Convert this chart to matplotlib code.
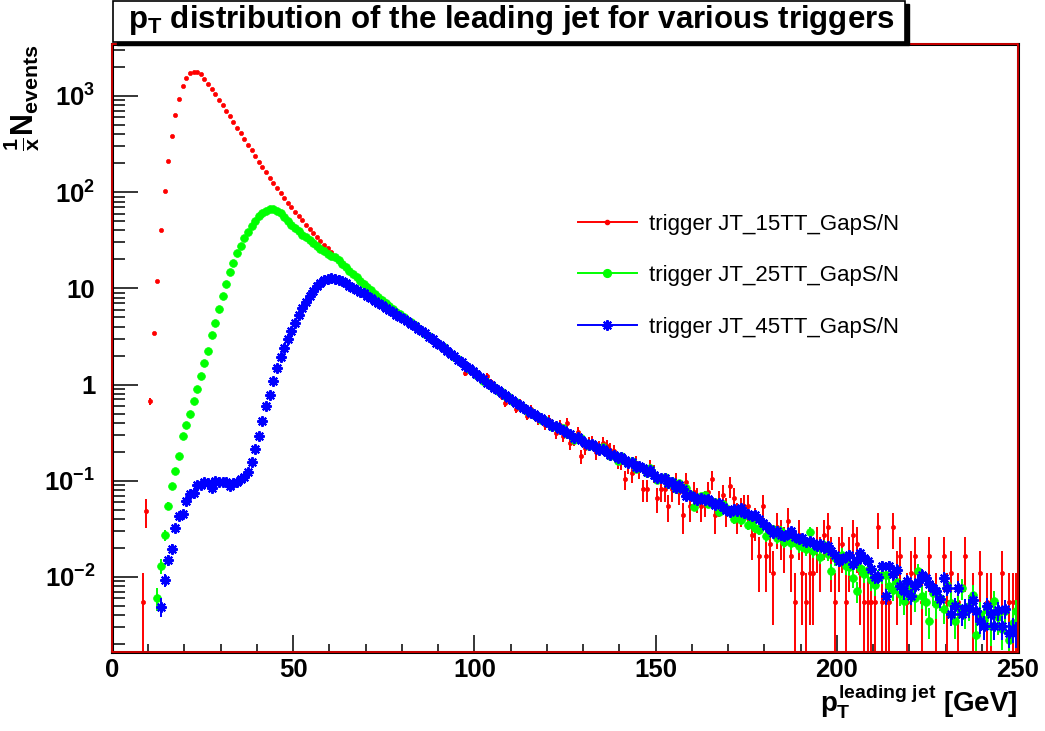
import numpy as np
import matplotlib
matplotlib.use("Agg")
import matplotlib.pyplot as plt
from matplotlib.lines import Line2D
from matplotlib.patches import Rectangle
from matplotlib.ticker import FixedLocator, FixedFormatter, MultipleLocator, NullFormatter

plt.rcParams['font.family'] = 'Liberation Sans'
plt.rcParams['mathtext.fontset'] = 'custom'
plt.rcParams['mathtext.rm'] = 'Liberation Sans:bold'
plt.rcParams['mathtext.it'] = 'Liberation Sans:bold'
plt.rcParams['mathtext.bf'] = 'Liberation Sans:bold'

# 1 GeV bins, first filled bin of each trigger
red_start = 8
red_values = [
    0.0055, 0.049,
    0.67, 3.4, 11.9, 40.6, 102, 213, 385, 630, 930, 1270,
    1550, 1720, 1795, 1780, 1683, 1492, 1336, 1195, 1052, 918,
    808, 705, 615, 542, 469, 410, 358, 312, 273, 238,
    208, 181, 163, 142, 125, 110, 98.4, 87.9, 78.0, 69.7,
    62.8, 56.2, 51.0, 46.0, 41.9, 37.8, 34.3, 31.3, 28.5, 26.0,
    23.7, 21.5, 19.8, 18.1, 16.8, 15.4, 14.3, 12.9, 12.1, 11.1,
    10.5, 9.5, 8.8, 8.05, 7.6, 6.95, 6.6, 6.0, 5.75, 5.3,
    5.1, 4.65, 4.5, 4.05, 3.9, 3.58, 3.42, 3.12, 2.99, 2.70,
    2.62, 2.36, 2.28, 2.05, 1.99, 1.78, 1.74, 1.32, 1.51, 1.35,
    1.32, 1.13, 1.16, 1.24, 1.06, 0.893, 0.883, 0.75, 0.645, 0.768,
    0.667, 0.56, 0.641, 0.585, 0.476, 0.564, 0.483, 0.433, 0.454, 0.384,
    0.433, 0.380, 0.315, 0.382, 0.293, 0.40, 0.248, 0.268, 0.321, 0.18,
    0.218, 0.247, 0.253, 0.199, 0.227, 0.248, 0.228, 0.211, 0.202, 0.164,
]
# bins 140..249 of the red trigger, in entries
red_tail_counts = [
    29, 19, 27, 22, 28, 24, 15, 15, 25, 22,
    12, 15, 15, 10, 15, 18, 14, 8, 18, 10,
    14, 12, 10, 11, 14, 19, 8, 11, 13, 9,
    16, 12, 8, 9, 10, 10, 5, 7, 3, 10,
    3, 4, 2, 6, 5, 4, 7, 3, 1, 5,
    2, 1, 2, 2, 4, 3, 5, 6, 3, 1,
    3, 4, 1, 3, 5, 4, 2, 1, 1, 1,
    1, 6, 1, 1, 1, 6, 2, 3, 0, 1,
    2, 3, 0, 1, 0, 3, 0, 1, 0, 3,
    1, 2, 0, 1, 0, 3, 0, 1, 0, 2,
    0, 1, 1, 0, 0, 2, 0, 1, 1, 1,
]
red_weight = 0.00546

green_start = 12
green_values = [
    0.00607, 0.0131, 0.0271, 0.0552, 0.089, 0.1256, 0.183, 0.295,
    0.378, 0.491, 0.682, 0.908, 1.24, 1.66, 2.22, 3.31, 4.34, 6.13,
    8.28, 11.1, 14.7, 18.5, 23.2, 27.4, 33.2, 38.7, 44.6, 50.7,
    56.2, 61.0, 64.4, 66.4, 66.4, 63.9, 60.3, 55.7, 50.7, 46.0,
    42.7, 39.4, 36.3, 33.9, 31.6, 29.5, 27.5, 25.7, 24.3, 22.9,
    21.9, 21.1, 19.5, 17.9, 16.5, 15.2, 14.1, 13.0, 12.0, 11.2,
    10.35, 9.55, 8.71, 8.13, 7.50, 7.0, 6.53, 6.10, 5.69, 5.37,
    5.01, 4.73, 4.42, 4.12, 3.85, 3.63, 3.36, 3.18, 2.92, 2.78,
    2.55, 2.43, 2.21, 2.10, 1.93, 1.84, 1.69, 1.60, 1.46, 1.39,
    1.27, 1.21, 1.10, 1.07, 0.975, 0.945, 0.862, 0.83, 0.765, 0.74,
    0.676, 0.652, 0.598, 0.582, 0.535, 0.521, 0.48, 0.468, 0.432, 0.425,
    0.402, 0.364, 0.374, 0.342, 0.350, 0.305, 0.303, 0.268, 0.284, 0.277,
    0.249, 0.231, 0.243, 0.226, 0.209, 0.222, 0.199, 0.183, 0.187, 0.162,
    0.180, 0.162, 0.152, 0.161, 0.133, 0.140, 0.137, 0.121, 0.135, 0.114,
    0.101, 0.108, 0.110, 0.0918, 0.0987, 0.082, 0.0953, 0.0815, 0.085, 0.0721,
    0.053, 0.0619, 0.0691, 0.0716, 0.0574, 0.058, 0.0605, 0.0475, 0.0571, 0.0523,
    0.047, 0.040, 0.0455, 0.0389, 0.0427, 0.0345, 0.0385, 0.0322, 0.031, 0.0356,
    0.0268, 0.0291, 0.0312, 0.0254, 0.030, 0.0232, 0.0248, 0.0224, 0.0236, 0.021,
    0.0215, 0.0196, 0.0295, 0.0187, 0.0203, 0.0162, 0.0214, 0.0175, 0.0115, 0.0158,
    0.0152, 0.0171, 0.0129, 0.0127, 0.0098, 0.0071, 0.0125, 0.0108, 0.0119, 0.0092,
    0.0083, 0.0097, 0.0106, 0.0106, 0.0081, 0.0074, 0.0088, 0.0067, 0.0056, 0.0078,
    0.0069, 0.0060, 0.0115, 0.0064, 0.0055, 0.0035, 0.0068, 0.0052, 0.0061, 0.0047,
    0.0083, 0.0054, 0.0035, 0.0049, 0.0076, 0.0043, 0.0050, 0.0065, 0.0025, 0.0041,
    0.0036, 0.0045, 0.0031, 0.0056, 0.0038, 0.0029, 0.0044, 0.0022, 0.0033, 0.0044,
]
green_weight = 0.00045

blue_start = 13
blue_values = [
    0.0049, 0.0093, 0.0149, 0.0196, 0.0324, 0.0428, 0.0453,
    0.0622, 0.0736, 0.074, 0.0906, 0.0899, 0.0966, 0.0957, 0.0844, 0.1005, 0.097,
    0.0966, 0.0966, 0.0885, 0.0957, 0.097, 0.1047, 0.1106, 0.1247, 0.1556, 0.216,
    0.293, 0.422, 0.595, 0.787, 1.08, 1.47, 1.93, 2.41, 2.99, 3.64,
    4.38, 5.25, 6.21, 7.29, 8.28, 9.42, 10.5, 11.4, 12.1, 12.6,
    12.7, 12.6, 12.3, 11.9, 11.3, 10.6, 10.1, 9.66, 9.23, 8.91,
    8.41, 7.94, 7.41, 7.08, 6.68, 6.31, 5.96, 5.62, 5.31, 5.07,
    4.79, 4.57, 4.30, 4.03, 3.78, 3.59, 3.41, 3.14, 2.97, 2.73,
    2.59, 2.38, 2.26, 2.08, 1.96, 1.80, 1.72, 1.575, 1.49, 1.37,
    1.30, 1.19, 1.13, 1.05, 0.995, 0.925, 0.885, 0.818, 0.782, 0.722,
    0.69, 0.64, 0.616, 0.57, 0.549, 0.507, 0.494, 0.457, 0.446, 0.414,
    0.402, 0.373, 0.369, 0.343, 0.339, 0.311, 0.305, 0.281, 0.282, 0.268,
    0.249, 0.238, 0.239, 0.226, 0.211, 0.213, 0.198, 0.185, 0.187, 0.171,
    0.176, 0.163, 0.153, 0.156, 0.139, 0.141, 0.135, 0.123, 0.129, 0.115,
    0.107, 0.108, 0.108, 0.0945, 0.0972, 0.0835, 0.0905, 0.0818, 0.069, 0.0705,
    0.0672, 0.0638, 0.0655, 0.0626, 0.0641, 0.0598, 0.0567, 0.0585, 0.0532, 0.050,
    0.0478, 0.0512, 0.049, 0.052, 0.0468, 0.0452, 0.0431, 0.0445, 0.0396, 0.0362,
    0.0343, 0.0318, 0.0287, 0.0302, 0.0275, 0.0266, 0.0281, 0.030, 0.0262, 0.0248,
    0.0254, 0.0231, 0.0238, 0.0226, 0.0212, 0.0221, 0.0198, 0.0209, 0.0186, 0.0168,
    0.0146, 0.0154, 0.0162, 0.0171, 0.0135, 0.0149, 0.0178, 0.0156, 0.0146, 0.0121,
    0.0100, 0.0100, 0.0129, 0.0063, 0.0129, 0.0108, 0.0119, 0.0080, 0.0071, 0.0090,
    0.0063, 0.0080, 0.0088, 0.0106, 0.0098, 0.0085, 0.0077, 0.0071, 0.0059, 0.0098,
    0.0077, 0.0041, 0.0050, 0.0077, 0.0041, 0.0048, 0.0048, 0.0058, 0.0044, 0.0035,
    0.0031, 0.0050, 0.0041, 0.0031, 0.0045, 0.0031, 0.0047, 0.0026, 0.0029, 0.0026,
]
blue_weight = 0.00024

labels = ["trigger JT_15TT_GapS/N", "trigger JT_25TT_GapS/N", "trigger JT_45TT_GapS/N"]
y_ticks = [1e-2, 1e-1, 1, 10, 1e2, 1e3]
y_ticklabels = [r"$10^{-2}$", r"$10^{-1}$", "1", "10", r"$10^{2}$", r"$10^{3}$"]


def draw(ax, start, values, weight, color, marker, ms, mew):
    v = np.asarray(values, dtype=float)
    x = start + np.arange(len(v)) + 0.5
    err = np.sqrt(v * weight)
    lo = np.minimum(err, v * 0.9999)
    v = np.where(v > 0, v, np.nan)
    ax.errorbar(x, v, yerr=[lo, err], fmt='none', ecolor=color, elinewidth=1.4, capsize=0)
    ax.plot(x, v, linestyle='none', marker=marker, color=color, mfc=color, mec=color,
            ms=ms, mew=mew)


fig = plt.figure(figsize=(10.45, 7.31), dpi=100)
ax = fig.add_axes([112 / 1045, 1 - 652 / 731, 906 / 1045, 608 / 731])
ax.set_yscale('log')

red_all = list(red_values) + [c * red_weight for c in red_tail_counts]
draw(ax, red_start, red_all, red_weight, (1, 0, 0), 'o', 3.0, 0.5)
draw(ax, green_start, green_values, green_weight, (0, 1, 0), 'o', 5.6, 0.5)
draw(ax, blue_start, blue_values, blue_weight, (0, 0, 1), (8, 2, 0), 7.5, 1.5)

ax.set_xlim(0, 250)
ax.set_ylim(1.661e-3, 3470)

ax.xaxis.set_major_locator(MultipleLocator(50))
ax.xaxis.set_minor_locator(MultipleLocator(10))
ax.yaxis.set_major_locator(FixedLocator(y_ticks))
ax.yaxis.set_major_formatter(FixedFormatter(y_ticklabels))
ax.yaxis.set_minor_formatter(NullFormatter())
ax.tick_params(which='both', direction='in', top=False, right=False, width=1.1,
               labelsize=18.5)
ax.tick_params(axis='x', which='major', length=12, pad=4)
ax.tick_params(axis='x', which='minor', length=6)
ax.tick_params(axis='y', which='major', length=19, pad=12)
ax.tick_params(axis='y', which='minor', length=9.5)
for lab in ax.get_xticklabels() + ax.get_yticklabels():
    lab.set_fontweight('bold')

for s in ax.spines.values():
    s.set_linewidth(2.2)
    s.set_color('black')
ax.add_patch(Rectangle((0, 0), 1, 1, transform=ax.transAxes, fill=False,
                       edgecolor='red', lw=1.1, zorder=5, clip_on=False))

ax.set_xlabel(r"$p_{T}^{leading\ jet}$ [GeV]", loc='right', fontsize=20,
              fontweight='bold', labelpad=0)
ax.set_ylabel(r"$\frac{1}{x}N_{events}$", loc='top', fontsize=22, labelpad=2)

handles = [
    Line2D([], [], color=(1, 0, 0), marker='o', ms=3.0, lw=1.4),
    Line2D([], [], color=(0, 1, 0), marker='o', ms=5.6, lw=1.4),
    Line2D([], [], color=(0, 0, 1), marker=(8, 2, 0), ms=7.5, mew=1.5, lw=1.4),
]
ax.legend(handles, labels, loc='upper left', bbox_to_anchor=(466 / 906, 0.721),
          frameon=False, fontsize=16, handlelength=2.65, handletextpad=0.55,
          labelspacing=1.37, borderpad=0, borderaxespad=0)

# title box with shadow
bx, by, bw, bh = 113 / 1045, 1 - 42 / 731, 792 / 1045, 41 / 731
fig.patches.append(Rectangle((bx + 4 / 1045, by - 3 / 731), bw, bh, transform=fig.transFigure,
                             facecolor='black', edgecolor='black', lw=1))
fig.patches.append(Rectangle((bx, by), bw, bh, transform=fig.transFigure,
                             facecolor='white', edgecolor='black', lw=1.2))
fig.text(bx + bw / 2 + 2 / 1045, 1 - 20 / 731,
         r"$p_{T}$ distribution of the leading jet for various triggers",
         ha='center', va='center', fontsize=22.5, fontweight='bold')

fig.savefig("out.png", dpi=100)
